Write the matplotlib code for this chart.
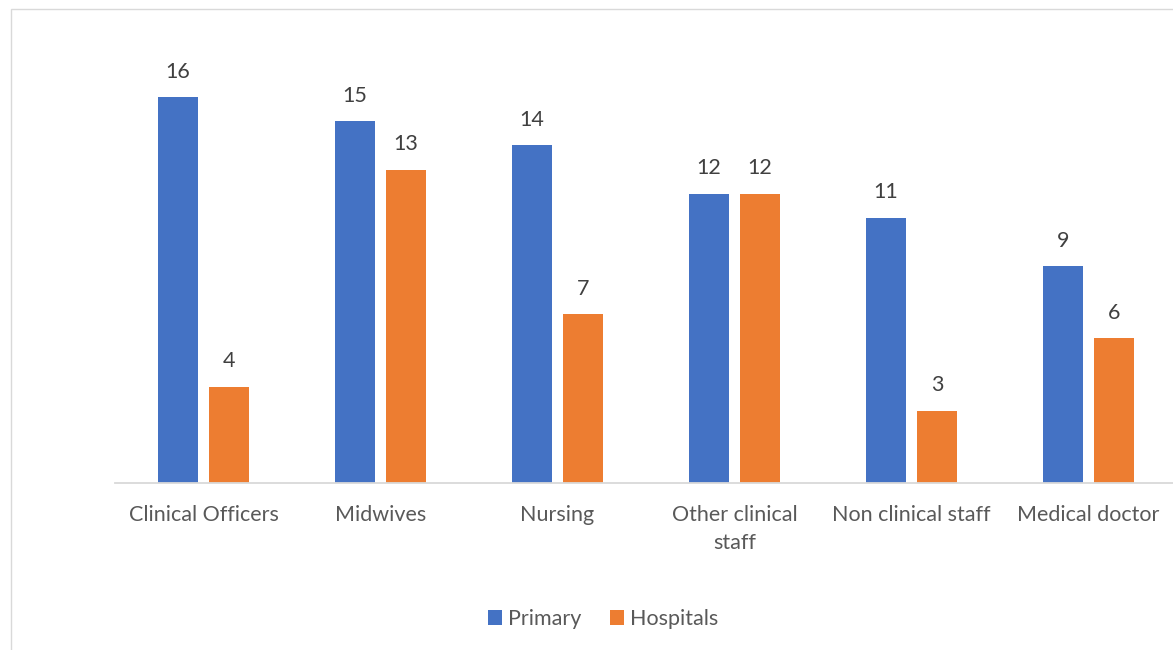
import matplotlib.pyplot as plt
import numpy as np
from matplotlib.patches import Rectangle

# Staff categories and counts per facility type
categories = ["Clinical Officers", "Midwives", "Nursing",
              "Other clinical\nstaff", "Non clinical staff", "Medical doctor"]
primary = [16, 15, 14, 12, 11, 9]
hospitals = [4, 13, 7, 12, 3, 6]

BLUE = "#4472C4"
ORANGE = "#ED7D31"
TEXT = "#595959"
GRID = "#D9D9D9"

plt.rcParams["font.family"] = ["Lato", "DejaVu Sans"]

fig = plt.figure(figsize=(11.73, 6.5), dpi=100)
ax = fig.add_axes([115 / 1173, 167 / 650, 1062 / 1173, 434 / 650])

x = np.arange(len(categories))
width = 0.226
offset = 0.144
bars_p = ax.bar(x - offset, primary, width, color=BLUE, label="Primary")
bars_h = ax.bar(x + offset, hospitals, width, color=ORANGE, label="Hospitals")

for bars in (bars_p, bars_h):
    for b in bars:
        ax.annotate(f"{b.get_height():.0f}",
                    (b.get_x() + b.get_width() / 2, b.get_height()),
                    xytext=(0, 11), textcoords="offset points",
                    ha="center", va="bottom", fontsize=15.5, color="#404040")

ax.set_xlim(-0.5, len(categories) - 0.5)
ax.set_ylim(0, 18)
ax.set_xticks(x)
ax.set_xticklabels(categories, fontsize=15.5, color=TEXT, linespacing=1.5)
ax.tick_params(axis="x", length=0, pad=16)
ax.set_yticks([])
for side in ("top", "right", "left"):
    ax.spines[side].set_visible(False)
ax.spines["bottom"].set_color(GRID)
ax.spines["bottom"].set_linewidth(1.3)

fig.legend(handles=[bars_p, bars_h], loc="center",
           bbox_to_anchor=(603 / 1173, 1 - 619 / 650), ncol=2,
           frameon=False, fontsize=15.5, labelcolor=TEXT,
           handlelength=0.65, handleheight=0.65, handletextpad=0.3,
           columnspacing=1.3)

# light outer frame of the chart area
fig.patches.append(Rectangle((11 / 1173, -0.1), 1.2, 1 - 9 / 650 + 0.1,
                             transform=fig.transFigure, fill=False,
                             edgecolor=GRID, linewidth=1.0))

fig.savefig("out.png", dpi=100)
